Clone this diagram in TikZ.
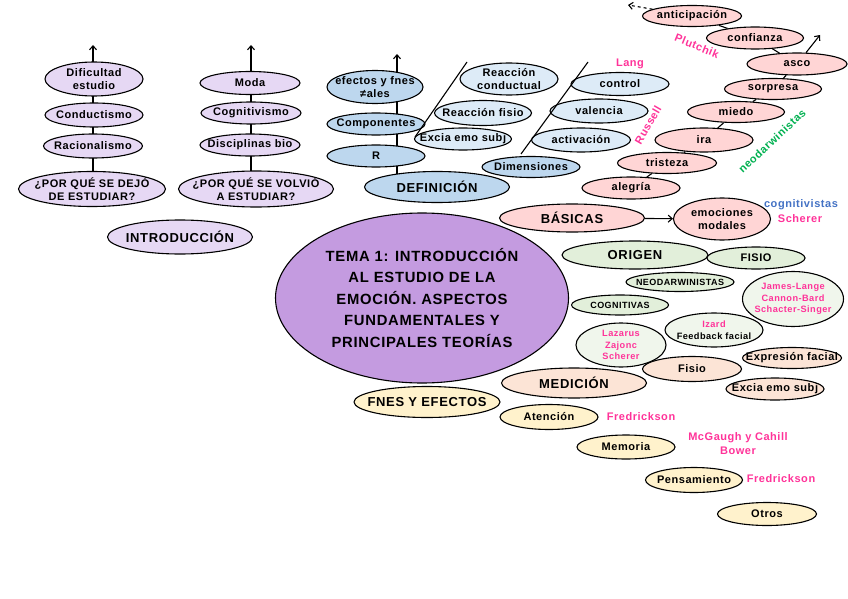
\documentclass[tikz,border=0pt]{standalone}
\usepackage{fontspec}
\setmainfont{Liberation Sans}[LetterSpace=5]
\usetikzlibrary{shapes.geometric,arrows.meta,backgrounds}
\definecolor{intro}{HTML}{E6D8F4}
\definecolor{mainc}{HTML}{C49BE0}
\definecolor{defb}{HTML}{BDD7EE}
\definecolor{defl}{HTML}{DDEBF7}
\definecolor{pinkf}{HTML}{FFD5D5}
\definecolor{orig}{HTML}{E2EFDA}
\definecolor{origl}{HTML}{F0F6EC}
\definecolor{medf}{HTML}{FCE4D6}
\definecolor{fnef}{HTML}{FFF2CC}
\definecolor{pk}{RGB}{255,51,153}
\definecolor{gr}{RGB}{0,176,80}
\definecolor{bl}{RGB}{68,114,196}
\tikzset{
  ell/.style={ellipse, draw=black, line width=1.1pt, inner sep=0pt},
  txt/.style={inner sep=0pt, align=center},
  sm/.style={font=\fontsize{11}{13}\selectfont\bfseries},
  bg/.style={font=\fontsize{13}{15}\selectfont\bfseries},
  ti/.style={font=\fontsize{14.8}{21.5}\selectfont\bfseries},
  xs/.style={font=\fontsize{9}{10.5}\selectfont\bfseries},
  ps/.style={font=\fontsize{9.2}{11.5}\selectfont\bfseries},
  conn/.style={line width=1.1pt},
  arr/.style={line width=1.1pt, -{Straight Barb[length=4pt,width=7pt]}},
  lab/.style={inner sep=0pt, align=center, font=\fontsize{11}{14}\selectfont\bfseries},
}
% name, x, y, w, h, fill, font style, text
\newcommand\en[8]{%
  \node[ell,fill=#6,minimum width=#4pt,minimum height=#5pt] (#1) at (#2,#3) {};
  \node[txt,#7] at (#1.center) {#8};}
\begin{document}
\begin{tikzpicture}[x=1pt,y=-1pt]
\useasboundingbox (0,0) rectangle (848,599);
% ---------- INTRODUCCIÓN ----------
\en{dif}{94}{79}{98}{34}{intro}{sm}{Dificultad\\estudio}
\en{con}{94}{115}{98}{24}{intro}{sm}{Conductismo}
\en{rac}{93}{146}{99}{24}{intro}{sm}{Racionalismo}
\en{qa}{92}{189}{147}{35}{intro}{sm}{¿POR QUÉ SE DEJÓ\\DE ESTUDIAR?}
\en{intr}{180}{237}{145}{34}{intro}{bg}{INTRODUCCIÓN}
\en{moda}{250}{83}{100}{23}{intro}{sm}{Moda}
\en{cogv}{251}{113}{100}{22}{intro}{sm}{Cognitivismo}
\en{dis}{250}{145}{100}{22}{intro}{sm}{Disciplinas bio}
\en{qb}{256}{189}{155}{36}{intro}{sm}{¿POR QUÉ SE VOLVIÓ\\A ESTUDIAR?}
\coordinate (a1) at (93,45);
\coordinate (a2) at (251,45);
% ---------- DEFINICIÓN ----------
\en{efe}{375}{87}{96}{33}{defb}{sm}{efectos y fnes\\≠ales}
\en{comp}{376}{124}{98}{22}{defb}{sm}{Componentes}
\en{rr}{376}{156}{98}{22}{defb}{sm}{R}
\en{def}{437}{187}{145}{31}{defb}{bg}{DEFINICIÓN}
\coordinate (a3) at (397,54);
\en{rc}{509}{79}{98}{32}{defl}{sm}{Reacción\\conductual}
\en{rf}{483}{113}{97}{25}{defl}{sm}{Reacción fisio}
\en{exa}{463}{139}{97}{22}{defl}{sm}{Excia emo subj}
\en{dim}{531}{167}{98}{21}{defb}{sm}{Dimensiones}
\en{act}{581}{140}{99}{24}{defl}{sm}{activación}
\en{val}{599}{111}{98}{24}{defl}{sm}{valencia}
\en{ctl}{620}{84}{98}{23}{defl}{sm}{control}
\coordinate (l1a) at (415,137);
\coordinate (l1b) at (467,62);
\coordinate (l2a) at (521,154);
\coordinate (l2b) at (588,62);
\draw[conn] (l1a) -- (l1b);
\draw[conn] (l2a) -- (l2b);
% ---------- EMOCIONES ----------
\en{ant}{692}{16}{99}{21}{pinkf}{sm}{anticipación}
\en{conf}{755}{38}{97}{22}{pinkf}{sm}{confianza}
\en{asco}{797}{64}{100}{22}{pinkf}{sm}{asco}
\en{sor}{773}{89}{97}{21}{pinkf}{sm}{sorpresa}
\en{mie}{736}{112}{97}{21}{pinkf}{sm}{miedo}
\en{ira}{704}{140}{98}{24}{pinkf}{sm}{ira}
\en{tri}{667}{163}{99}{21}{pinkf}{sm}{tristeza}
\en{ale}{631}{188}{98}{22}{pinkf}{sm}{alegría}
\coordinate (antend) at (628,5);
\coordinate (ascoend) at (820,35);
\en{bas}{572}{218}{145}{28}{pinkf}{bg}{BÁSICAS}
\en{emo}{722}{219}{97}{42}{pinkf}{sm}{emociones\\modales}
\draw[arr] (bas) -- (emo);
% ---------- ORIGEN ----------
\en{ori}{635}{255}{146}{28}{orig}{bg}{ORIGEN}
\en{fisio}{756}{258}{98}{22}{orig}{sm}{FISIO}
\en{neo}{680}{282}{108}{19}{orig}{xs}{NEODARWINISTAS}
\en{cogn}{620}{305}{97}{20}{orig}{xs}{COGNITIVAS}
\en{jl}{793}{299}{101}{55}{origl}{ps}{\textcolor{pk}{James-Lange}\\\textcolor{pk}{Cannon-Bard}\\\textcolor{pk}{Schacter-Singer}}
\en{iz}{714}{330}{98}{34}{origl}{ps}{\textcolor{pk}{Izard}\\Feedback facial}
\en{laz}{621}{345}{90}{44}{origl}{ps}{\textcolor{pk}{Lazarus}\\\textcolor{pk}{Zajonc}\\\textcolor{pk}{Scherer}}
% ---------- MEDICIÓN ----------
\en{med}{574}{383}{145}{30}{medf}{bg}{MEDICIÓN}
\en{fisb}{692}{369}{99}{25}{medf}{sm}{Fisio}
\en{expr}{792}{358}{99}{21}{medf}{sm}{Expresión facial}
\en{exb}{775}{389}{98}{22}{medf}{sm}{Excia emo subj}
% ---------- FNES Y EFECTOS ----------
\en{fne}{427}{402}{146}{31}{fnef}{bg}{FNES Y EFECTOS}
\en{ate}{549}{417}{98}{25}{fnef}{sm}{Atención}
\en{mem}{626}{447}{98}{24}{fnef}{sm}{Memoria}
\en{pen}{694}{480}{97}{25}{fnef}{sm}{Pensamiento}
\en{otr}{767}{514}{99}{23}{fnef}{sm}{Otros}
% ---------- TEMA ----------
\en{tema}{422}{298}{293}{170}{mainc}{ti}{TEMA 1: INTRODUCCIÓN\\AL ESTUDIO DE LA\\EMOCIÓN. ASPECTOS\\FUNDAMENTALES Y\\PRINCIPALES TEORÍAS}
% ---------- labels ----------
\node[lab,text=pk] (lang) at (630,64) {Lang};
\node[lab,text=pk,rotate=60] (russ) at (648,125) {Russell};
\node[lab,text=pk,rotate=-22] (plut) at (697,46) {Plutchik};
\node[lab,text=gr,rotate=43] (neod) at (772,141) {neodarwinistas};
\node[lab,text=bl] (cgt) at (801,205) {cognitivistas};
\node[lab,text=pk] (sch) at (800,219) {Scherer};
\node[lab,text=pk] (fr1) at (641,417) {Fredrickson};
\node[lab,text=pk] (mcg) at (738,444) {McGaugh y Cahill\\Bower};
\node[lab,text=pk] (fr2) at (781,479) {Fredrickson};
% ---------- background connectors ----------
\begin{scope}[on background layer]
  \draw[arr] (qa.center -| a1) -- (a1);
  \draw[arr] (qb.center -| a2) -- (a2);
  \draw[arr] (def.center -| a3) -- (a3);
  \draw[conn] (ale) -- (tri) -- (ira) -- (mie) -- (sor) -- (asco) -- (conf) -- (ant);
  \draw[arr,dashed] (ant) -- (antend);
  \draw[arr] (asco) -- (ascoend);
\end{scope}
\end{tikzpicture}
\end{document}
